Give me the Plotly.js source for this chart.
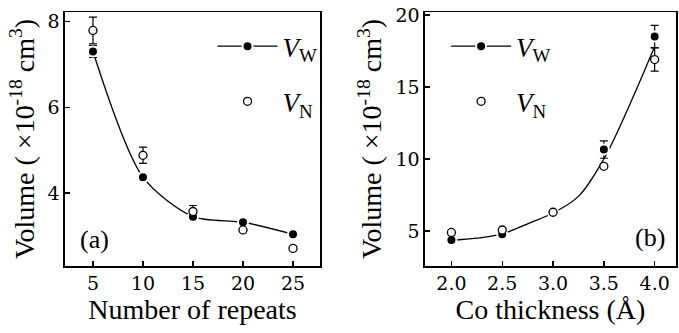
<!DOCTYPE html>
<html>
<head>
<meta charset="utf-8">
<script src="https://cdn.plot.ly/plotly-3.0.1.min.js"></script>
<style>html,body{margin:0;padding:0;background:#fff;}#chart{width:679px;height:333px;}</style>
</head>
<body>
<div id="chart"></div>
<script>
// Panel (a): volume vs number of repeats
const repeats = [5, 10, 15, 20, 25];
const vwA = [7.30, 4.37, 3.45, 3.32, 3.04];
const vwAerr = [0.14, 0, 0, 0, 0];
const vnA = [7.79, 4.88, 3.57, 3.14, 2.71];
const vnAerr = [0.31, 0.19, 0.14, 0, 0];

// Panel (b): volume vs Co thickness
const thickness = [2.0, 2.5, 3.0, 3.5, 4.0];
const vwB = [4.38, 4.77, 6.3, 10.65, 18.5];
const vwBerr = [0, 0, 0, 0.6, 0.77];
const vnB = [4.9, 5.07, 6.3, 9.49, 16.9];
const vnBerr = [0, 0, 0, 0, 0.8];
// fitted curve in panel (b)
const fitX = [2.0, 2.25, 2.5, 2.75, 3.0, 3.25, 3.5, 3.75, 4.0];
const fitY = [4.35, 4.5, 4.8, 5.5, 6.25, 7.4, 10.0, 13.7, 17.8];

const tickA = [5, 10, 15, 20, 25];
const tickAy = [4, 6, 8];
const tickB = [2.0, 2.5, 3.0, 3.5, 4.0];
const tickBlabels = ['2.0', '2.5', '3.0', '3.5', '4.0'];
const tickBy = [5, 10, 15, 20];

const nameW = '<i>V</i><sub>W</sub>';
const nameN = '<i>V</i><sub>N</sub>';

const SERIF = '"Liberation Serif", "Times New Roman", Times, serif';
const TICKSERIF = '"DejaVu Serif", "Liberation Serif", serif';

const filledMarker = {symbol: 'circle', size: 10, color: '#000', line: {color: '#fff', width: 2}};
const openMarker = {symbol: 'circle', size: 8, color: '#fff', line: {color: '#000', width: 1.3}};
const err = (arr) => ({type: 'data', array: arr, visible: true, color: '#000', thickness: 1.2, width: 4});

const traces = [
  {x: repeats, y: vwA, xaxis: 'x', yaxis: 'y', mode: 'lines+markers', name: nameW,
   line: {shape: 'spline', smoothing: 0.8, color: '#000', width: 1.3},
   marker: filledMarker, error_y: err(vwAerr), legend: 'legend', legendgroup: 'aw'},
  {x: repeats, y: vnA, xaxis: 'x', yaxis: 'y', mode: 'markers', name: nameN,
   marker: openMarker, error_y: err(vnAerr), legend: 'legend', legendgroup: 'an'},
  {x: fitX, y: fitY, xaxis: 'x2', yaxis: 'y2', mode: 'lines', showlegend: false,
   line: {shape: 'spline', smoothing: 1, color: '#000', width: 1.3}},
  {x: thickness, y: vwB, xaxis: 'x2', yaxis: 'y2', mode: 'markers', name: nameW, showlegend: false,
   marker: filledMarker, error_y: err(vwBerr)},
  {x: thickness, y: vnB, xaxis: 'x2', yaxis: 'y2', mode: 'markers', name: nameN,
   marker: openMarker, error_y: err(vnBerr), legend: 'legend2', legendgroup: 'bn'},
  {x: [null], y: [null], xaxis: 'x2', yaxis: 'y2', mode: 'lines+markers', name: nameW,
   line: {color: '#000', width: 1.3}, marker: filledMarker, legend: 'legend2', legendgroup: 'bw', legendrank: 1}
];

const axisBase = {
  showline: true, mirror: true, linecolor: '#000', linewidth: 1.5,
  ticks: 'inside', ticklen: 5, tickwidth: 1.3, tickcolor: '#000',
  showgrid: false, zeroline: false,
  tickfont: {size: 19, color: '#000', family: TICKSERIF}
};

const legendBase = {
  font: {size: 27, color: '#000', family: SERIF},
  bgcolor: 'rgba(0,0,0,0)', borderwidth: 0, tracegroupgap: 17, itemwidth: 60,
  xanchor: 'left', yanchor: 'top', traceorder: 'grouped'
};

const titleFont = {size: 28, color: '#000', family: SERIF};

const layout = {
  width: 679, height: 333,
  margin: {l: 0, r: 0, t: 12, b: 67},
  paper_bgcolor: '#fff', plot_bgcolor: '#fff',
  font: {family: SERIF, color: '#000'},
  showlegend: true,
  xaxis: Object.assign({}, axisBase, {
    domain: [0.0957, 0.4713], range: [2.2, 27.7], tickvals: tickA, anchor: 'y',
    title: {text: 'Number of repeats', font: titleFont, standoff: 6}
  }),
  yaxis: Object.assign({}, axisBase, {
    range: [2.3, 8.22], tickvals: tickAy, anchor: 'x', ticklabelstandoff: 0,
    title: {text: 'Volume ( ×10<sup>-18</sup> cm<sup>3</sup>)', font: titleFont, standoff: 5}
  }),
  xaxis2: Object.assign({}, axisBase, {
    domain: [0.6259, 0.9956], range: [1.74, 4.21], tickvals: tickB, ticktext: tickBlabels, anchor: 'y2',
    title: {text: 'Co thickness (Å)', font: titleFont, standoff: 6}
  }),
  yaxis2: Object.assign({}, axisBase, {
    range: [2.57, 20.2], tickvals: tickBy, anchor: 'x2', ticklabelstandoff: 0,
    title: {text: 'Volume ( ×10<sup>-18</sup> cm<sup>3</sup>)', font: titleFont, standoff: 5}
  }),
  legend: Object.assign({}, legendBase, {x: 0.313, y: 0.96}),
  legend2: Object.assign({}, legendBase, {x: 0.657, y: 0.96}),
  annotations: [
    {text: '(a)', xref: 'x domain', yref: 'y domain', x: 0.114, y: 0.106, xanchor: 'center', yanchor: 'middle',
     showarrow: false, font: {size: 26, color: '#000', family: SERIF}},
    {text: '(b)', xref: 'x2 domain', yref: 'y2 domain', x: 0.896, y: 0.114, xanchor: 'center', yanchor: 'middle',
     showarrow: false, font: {size: 26, color: '#000', family: SERIF}}
  ]
};

Plotly.newPlot('chart', traces, layout, {displayModeBar: false, staticPlot: true});
</script>
</body>
</html>
